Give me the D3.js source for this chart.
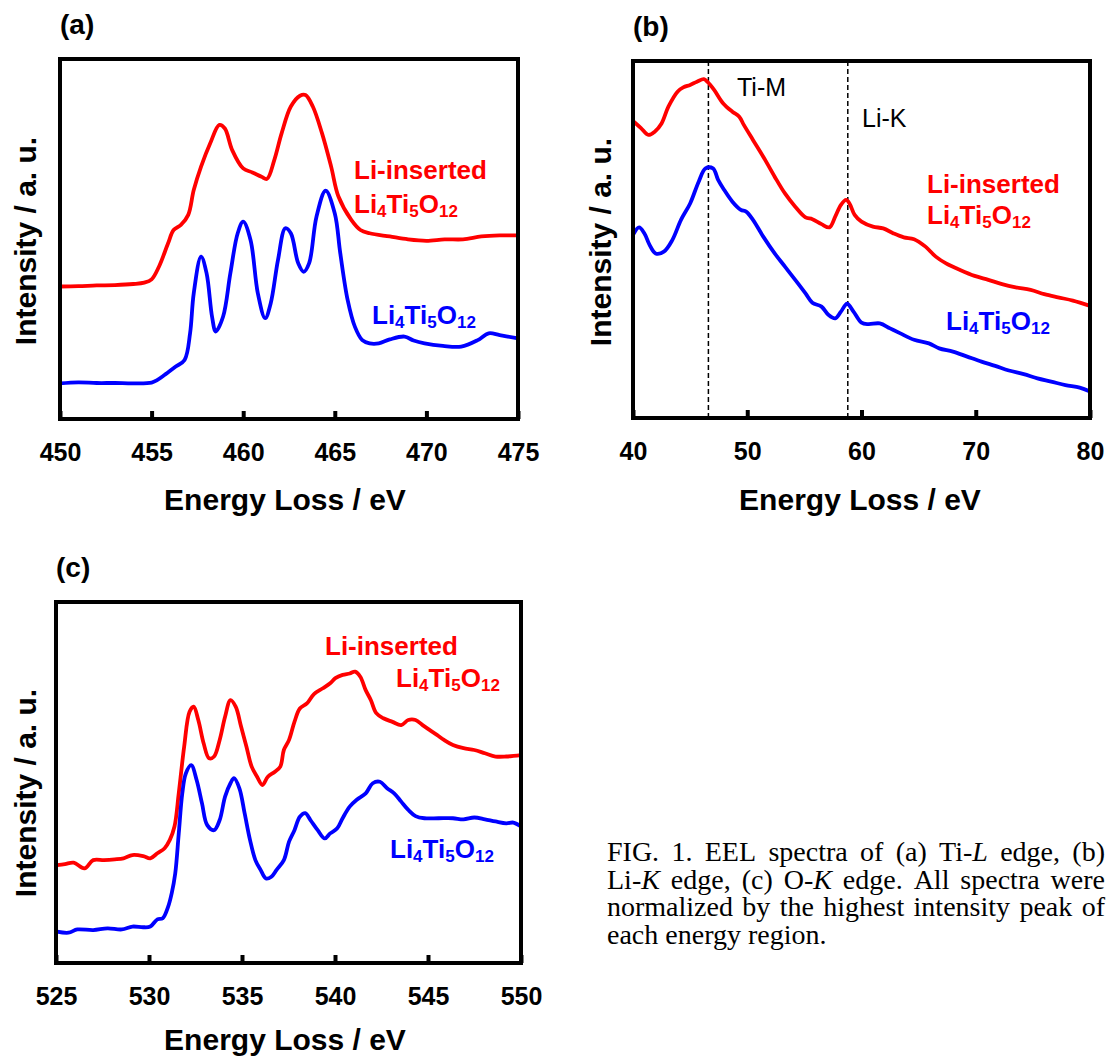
<!doctype html>
<html>
  <head>
    <script src="https://cdnjs.cloudflare.com/ajax/libs/d3/7.8.5/d3.min.js"></script>
    <style>
      body { margin: 0; background: #fff; }
      svg { display: block; font-family: "Liberation Sans", Arial, sans-serif; }
      .frame { fill: none; stroke: #000; stroke-width: 4px; }
      .tick line { stroke: #000; stroke-width: 4px; }
      .tick text { font-size: 25px; font-weight: bold; fill: #000; }
      .title { font-size: 30px; font-weight: bold; fill: #000; }
      .letter { font-size: 28px; font-weight: bold; fill: #000; }
      .spec { fill: none; stroke-width: 3.8px; stroke-linejoin: round; stroke-linecap: round; }
      .lbl { font-size: 26px; font-weight: bold; }
      .sub { font-size: 17px; }
      .edge { stroke: #000; stroke-width: 1.5px; stroke-dasharray: 5,3; }
      .note { font-size: 25px; fill: #000; }
      .caption { font-family: "Liberation Serif", "Times New Roman", serif; font-size: 28px; fill: #000; }
    </style>
  </head>
  <body>
    <div id="viz"></div>
    <script>
      // (a) Ti-L edge
      var tiLTicks = [450, 455, 460, 465, 470, 475];
      var tiLInserted = [
        [450,36.8],[451,36.9],[452,37.1],[453,37.2],[454,37.5],[454.6,37.9],[455,38.8],[455.4,42.3],
        [455.9,48.8],[456.2,52.5],[456.6,53.9],[457.0,56.7],[457.3,63.6],[457.7,70.1],[458.2,76.6],
        [458.7,81.7],[459.0,80.7],[459.4,74.7],[460.0,69.6],[460.5,68.5],[461.0,67.3],[461.3,66.7],
        [461.7,72.0],[462.1,79.4],[462.6,86.8],[463.1,89.8],[463.4,90.0],[463.8,86.8],[464.3,79.4],
        [464.8,70.1],[465.2,61.8],[465.9,55.3],[466.4,52.5],[466.9,51.6],[468,50.7],[469,49.9],
        [470,49.5],[471,49.9],[472,49.9],[473,50.7],[474,51.0],[475,51.0]
      ];
      var tiLPristine = [
        [450,9.9],[451,10.2],[452,10.0],[453,10.0],[454,9.9],[455,10.1],[455.3,10.8],[455.7,12.2],
        [456.3,14.5],[456.8,16.4],[457.1,23.8],[457.3,34.9],[457.7,45.1],[458.0,40.5],[458.3,28.4],
        [458.5,24.3],[458.9,28.4],[459.3,40.5],[459.7,51.6],[460.0,54.8],[460.4,49.7],[460.8,34.9],
        [461.2,28.0],[461.5,32.1],[461.9,44.2],[462.3,53.0],[462.6,51.6],[463.0,43.3],[463.3,40.9],
        [463.6,43.3],[464.0,56.2],[464.5,63.4],[465.0,57.1],[465.3,46.0],[465.7,33.1],[466.1,25.6],
        [466.5,21.9],[466.9,21.0],[467.4,21.0],[468.0,22.1],[468.8,22.9],[469.3,21.8],[469.9,21.0],
        [470.9,20.3],[471.9,20.1],[472.8,21.9],[473.4,23.8],[474.0,23.3],[475,22.4]
      ];

      // (b) Li-K edge
      var liKTicks = [40, 50, 60, 70, 80];
      var liKEdges = [46.6, 58.8];
      var liKEdgeNames = ["Ti-M", "Li-K"];
      var liKInserted = [
        [40.07,83.0],[40.7,81.2],[41.35,79.3],[41.9,80.2],[42.5,82.5],[43.1,87.2],[43.9,91.4],
        [44.4,92.6],[45.0,93.3],[45.6,94.2],[46.2,94.9],[46.5,94.2],[47.1,91.9],[47.9,88.1],
        [48.7,85.8],[49.3,84.4],[49.7,82.1],[50.5,77.9],[51.4,73.2],[52.4,67.6],[53.3,62.9],
        [54.2,59.2],[55.1,56.2],[55.7,55.7],[56.5,54.3],[57.2,53.4],[57.7,56.4],[58.2,59.7],
        [58.65,61.1],[58.95,60.1],[59.4,56.9],[60.0,55.0],[61.0,53.6],[61.9,53.1],[62.8,51.7],
        [63.7,50.6],[64.6,50.1],[65.6,48.0],[66.5,45.2],[67.4,43.3],[68.6,41.5],[69.9,39.8],
        [71.1,38.7],[72.3,37.5],[73.5,36.6],[74.8,35.9],[76.0,34.7],[77.2,33.8],[78.5,32.9],[80.0,31.4]
      ];
      var liKPristine = [
        [40.07,51.7],[40.53,53.4],[41.0,51.7],[41.45,48.5],[41.98,46.1],[42.7,46.6],[43.45,49.9],
        [44.2,55.5],[45.0,60.1],[45.75,66.2],[46.35,69.9],[47.0,69.9],[47.45,66.7],[47.9,64.3],
        [48.7,60.6],[49.44,58.3],[49.9,57.8],[50.5,55.5],[51.4,50.8],[52.4,46.1],[53.3,42.4],
        [54.2,38.7],[55.1,34.9],[55.7,32.3],[56.5,31.2],[57.1,28.9],[57.7,27.9],[58.2,29.8],
        [58.74,32.0],[59.3,29.8],[60.0,26.7],[60.6,26.3],[61.6,26.5],[62.5,25.1],[63.4,23.7],
        [64.6,21.9],[65.9,20.9],[66.8,19.5],[68.0,18.6],[69.25,17.2],[70.5,15.8],[71.7,14.6],
        [72.9,13.3],[74.2,12.3],[75.4,11.1],[76.6,10.2],[77.85,9.2],[79.1,8.5],[80.0,7.4]
      ];

      // (c) O-K edge
      var oKTicks = [525, 530, 535, 540, 545, 550];
      var oKInserted = [
        [525.05,27.1],[525.48,27.4],[525.95,27.8],[526.53,26.2],[527.0,28.5],[527.58,28.5],
        [528.16,28.7],[528.63,29.0],[529.11,29.9],[529.69,29.6],[530.07,29.0],[530.45,30.4],
        [530.84,31.8],[531.12,34.1],[531.37,37.8],[531.6,47.0],[531.89,59.9],[532.18,69.6],
        [532.4,71.0],[532.65,67.3],[532.94,60.8],[533.23,56.7],[533.5,57.2],[533.8,61.8],
        [534.09,68.2],[534.38,72.8],[534.66,71.0],[534.95,65.5],[535.24,59.9],[535.52,54.4],
        [535.81,51.6],[536.1,49.3],[536.39,51.6],[536.77,53.0],[537.06,54.4],[537.25,59.0],
        [537.53,61.8],[537.82,66.8],[538.11,70.5],[538.49,71.9],[538.87,74.5],[539.35,76.1],
        [539.74,77.5],[540.02,78.9],[540.41,79.8],[540.79,80.2],[541.08,80.7],[541.36,79.3],
        [541.65,75.6],[541.93,72.8],[542.22,69.2],[542.6,67.8],[543.09,66.8],[543.56,65.9],
        [543.94,67.3],[544.33,67.3],[544.71,65.9],[545.1,64.5],[545.48,63.2],[545.86,61.8],
        [546.34,60.4],[546.91,59.5],[547.49,59.0],[548.06,58.1],[548.63,57.2],[549.21,57.2],[550.0,57.6]
      ];
      var oKPristine = [
        [525.05,8.7],[525.67,8.4],[526.15,9.3],[527.0,9.1],[527.77,9.6],[528.54,9.3],[529.11,10.1],
        [529.69,9.9],[530.07,10.1],[530.45,12.1],[530.74,12.4],[531.03,15.6],[531.22,19.3],
        [531.41,24.8],[531.6,35.9],[531.79,47.0],[531.98,52.5],[532.27,54.8],[532.56,50.7],
        [532.85,44.2],[533.13,38.2],[533.5,36.8],[533.8,39.6],[534.09,46.1],[534.38,49.8],
        [534.57,51.2],[534.86,48.4],[535.14,41.5],[535.43,34.1],[535.72,28.5],[536.0,25.8],
        [536.29,23.4],[536.58,23.9],[536.86,25.8],[537.25,28.5],[537.53,33.6],[537.82,36.8],
        [538.11,40.5],[538.4,41.5],[538.68,39.6],[539.07,36.8],[539.45,34.5],[539.74,35.9],
        [540.12,37.3],[540.41,40.1],[540.79,43.3],[541.17,45.2],[541.65,47.0],[542.03,49.8],
        [542.42,50.2],[542.8,48.4],[543.18,47.0],[543.56,44.7],[543.94,42.4],[544.33,40.7],
        [544.81,40.1],[545.57,40.1],[546.34,40.1],[546.91,39.8],[547.49,40.3],[548.06,39.8],
        [548.63,39.2],[549.21,38.7],[549.59,38.9],[550.0,37.8]
      ];

      var formula = [["Li", false], ["4", true], ["Ti", false], ["5", true], ["O", false], ["12", true]];

      var captionLines = [
        "FIG. 1. EEL spectra of (a) Ti-*L* edge, (b)",
        "Li-*K* edge, (c) O-*K* edge. All spectra were",
        "normalized by the highest intensity peak of",
        "each energy region."
      ];

      var panels = [
        { letter: "(a)", ticks: tiLTicks, inserted: tiLInserted, pristine: tiLPristine,
          box: { x0: 60, x1: 518, y0: 59, y1: 419 }, yTitle: [36, 241], xTitle: [285, 510],
          redLbl: [[354, 178.5], [354, 212.5]], blueLbl: [372, 323.5] },
        { letter: "(b)", ticks: liKTicks, inserted: liKInserted, pristine: liKPristine,
          box: { x0: 633, x1: 1090, y0: 61, y1: 418 }, yTitle: [611, 242], xTitle: [860, 510],
          redLbl: [[927, 192.7], [927, 224]], blueLbl: [946, 330],
          edges: liKEdges, edgeNames: liKEdgeNames, notePos: [[737, 96], [862, 127]] },
        { letter: "(c)", ticks: oKTicks, inserted: oKInserted, pristine: oKPristine,
          box: { x0: 56, x1: 521, y0: 602, y1: 963 }, yTitle: [36, 793], xTitle: [285, 1050],
          redLbl: [[325, 655], [396, 687]], blueLbl: [390, 858] }
      ];

      var svg = d3.select("#viz").append("svg")
        .attr("width", 1111).attr("height", 1057);

      svg.append("rect").attr("width", 1111).attr("height", 1057).attr("fill", "#fff");

      function chem(g, x, y, color) {
        var t = g.append("text").attr("class", "lbl").attr("x", x).attr("y", y).attr("fill", color);
        var shift = 0;
        formula.forEach(function(p) {
          var dy = p[1] ? 4 - shift : -shift;
          shift = p[1] ? 4 : 0;
          t.append("tspan").attr("class", p[1] ? "sub" : null).attr("dy", dy).text(p[0]);
        });
      }

      panels.forEach(function(p) {
        var b = p.box;
        var x = d3.scaleLinear().domain([p.ticks[0], p.ticks[p.ticks.length - 1]]).range([b.x0, b.x1]);
        var y = d3.scaleLinear().domain([0, 100]).range([b.y1, b.y0]);
        var g = svg.append("g");

        var line = d3.line()
          .x(function(d) { return x(d[0]); })
          .y(function(d) { return y(d[1]); })
          .curve(d3.curveCatmullRom.alpha(0.5));

        if (p.edges) {
          g.selectAll("line.edge").data(p.edges).enter().append("line")
            .attr("class", "edge")
            .attr("x1", function(d) { return x(d); }).attr("x2", function(d) { return x(d); })
            .attr("y1", b.y0).attr("y2", b.y1);
          g.selectAll("text.note").data(p.edgeNames).enter().append("text")
            .attr("class", "note")
            .attr("x", function(d, i) { return p.notePos[i][0]; })
            .attr("y", function(d, i) { return p.notePos[i][1]; })
            .text(function(d) { return d; });
        }

        g.append("path").datum(p.inserted).attr("class", "spec").attr("stroke", "#ff0000").attr("d", line);
        g.append("path").datum(p.pristine).attr("class", "spec").attr("stroke", "#0000ff").attr("d", line);

        g.append("g")
          .attr("transform", "translate(0," + b.y1 + ")")
          .call(d3.axisBottom(x).tickValues(p.ticks).tickSizeOuter(0).tickFormat(d3.format("d")))
          .call(function(a) { a.select(".domain").remove(); })
          .call(function(a) { a.selectAll(".tick line").attr("y2", -8); })
          .call(function(a) { a.selectAll(".tick text").attr("y", 42).attr("dy", null); });

        g.append("rect").attr("class", "frame")
          .attr("x", b.x0).attr("y", b.y0).attr("width", b.x1 - b.x0).attr("height", b.y1 - b.y0);

        g.append("text").attr("class", "letter").attr("x", b.x0).attr("y", b.y0 - 25).text(p.letter);

        g.append("text").attr("class", "title").attr("text-anchor", "middle")
          .attr("x", p.xTitle[0]).attr("y", p.xTitle[1]).text("Energy Loss / eV");

        g.append("text").attr("class", "title").attr("text-anchor", "middle")
          .attr("transform", "translate(" + p.yTitle[0] + "," + p.yTitle[1] + ") rotate(-90)")
          .text("Intensity / a. u.");

        g.append("text").attr("class", "lbl").attr("fill", "#ff0000")
          .attr("x", p.redLbl[0][0]).attr("y", p.redLbl[0][1]).text("Li-inserted");
        chem(g, p.redLbl[1][0], p.redLbl[1][1], "#ff0000");
        chem(g, p.blueLbl[0], p.blueLbl[1], "#0000ff");
      });

      // caption, justified like the printed page
      var capLeft = 607, capRight = 1105, capTop = 861, capStep = 27.7;
      var cap = svg.append("g").attr("class", "caption");
      captionLines.forEach(function(lineText, li) {
        var words = lineText.split(" ");
        var nodes = words.map(function(w) {
          var t = cap.append("text").attr("y", capTop + li * capStep);
          w.split(/(\*[^*]+\*)/).filter(function(s) { return s.length; }).forEach(function(s) {
            var it = s.charAt(0) === "*";
            t.append("tspan").attr("font-style", it ? "italic" : null).text(it ? s.slice(1, -1) : s);
          });
          return t;
        });
        var widths = nodes.map(function(t) { return t.node().getComputedTextLength(); });
        var last = li === captionLines.length - 1;
        var gap = last ? 7 : (capRight - capLeft - d3.sum(widths)) / (words.length - 1);
        var cx = capLeft;
        nodes.forEach(function(t, i) {
          t.attr("x", cx);
          cx += widths[i] + gap;
        });
      });
    </script>
  </body>
</html>
